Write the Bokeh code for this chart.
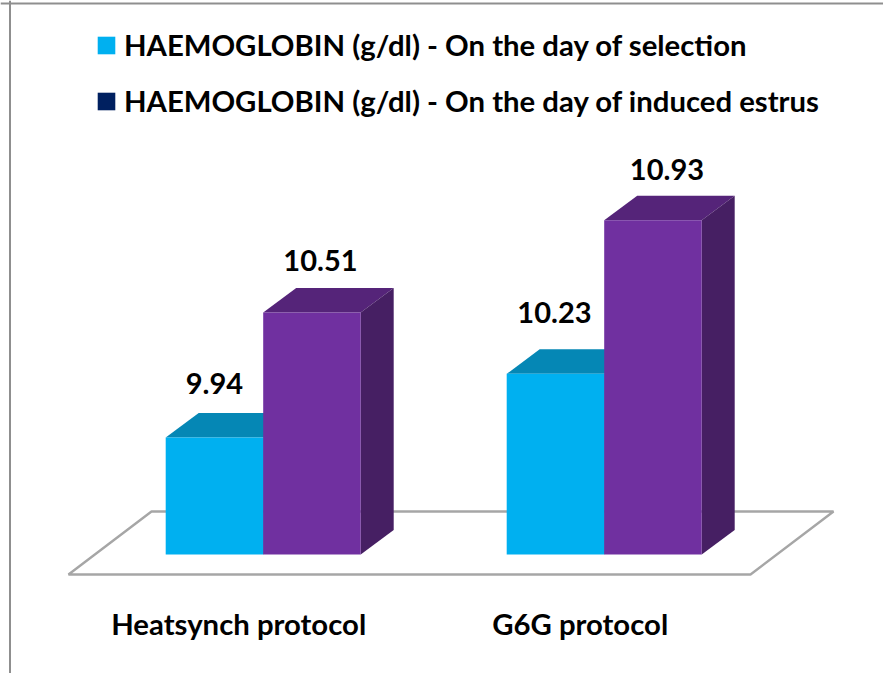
from bokeh.plotting import figure
from bokeh.embed import file_html
from bokeh.resources import INLINE
from bokeh.core.properties import value
from bokeh.models import Legend, LegendItem, Span

categories = ["Heatsynch protocol", "G6G protocol"]
series_names = ["HAEMOGLOBIN (g/dl) - On the day of selection",
                "HAEMOGLOBIN (g/dl) - On the day of induced estrus"]
selection = [9.94, 10.23]
estrus = [10.51, 10.93]

FONT = "Lato"
W, H = 883, 673
PX_X, PX_Y = 341.0, 219.5      # pixels per category, pixels per g/dl
X0 = -262.7 / PX_X
Y_TOP = 9.94 + 437 / PX_Y
BASE = 9.407
BAR = 97.5 / PX_X
DX, DY = 33 / PX_X, 24.5 / PX_Y

def dx(px):
    return X0 + px / PX_X
def dy(px):
    return Y_TOP - px / PX_Y

p = figure(width=W, height=H, output_backend="svg", toolbar_location=None,
           x_range=(X0, X0 + W / PX_X), y_range=(Y_TOP - H / PX_Y, Y_TOP),
           min_border=0, outline_line_color=None)
p.axis.visible = False
p.grid.visible = False
p.background_fill_color = "white"

# frame of the picture
FRAME = "#8f8f8f"
p.add_layout(Span(location=dx(9.5), dimension="height", line_color=FRAME, line_width=2))
p.add_layout(Span(location=dy(3), dimension="width", line_color=FRAME, line_width=2))

# floor
p.patch([dx(68), dx(750), dx(833), dx(151)], [dy(574), dy(574), dy(511), dy(511)],
        fill_color="white", line_color="#a6a6a6", line_width=2.4)

def bars(values, offset, front, top, side):
    xl = [i + offset for i in range(len(values))]
    xr = [x + BAR for x in xl]
    p.patches([[a, b, b + DX, a + DX] for a, b in zip(xl, xr)],
              [[v, v, v + DY, v + DY] for v in values],
              fill_color=top, line_color=None)
    p.patches([[b, b + DX, b + DX, b] for b in xr],
              [[BASE, BASE + DY, v + DY, v] for v in values],
              fill_color=side, line_color=None)
    return p.quad(left=xl, right=xr, bottom=BASE, top=values, fill_color=front, line_color=None)

bars(selection, -BAR, "#00B0F0", "#0587B5", "#0587B5")
bars(estrus, 0, "#7030A0", "#552479", "#461F63")

# data labels
lab_x = [-BAR / 2, 1 - BAR / 2, BAR / 2, 1 + BAR / 2]
lab_y = selection + estrus
lab_t = [f"{v:.2f}" for v in lab_y]
lab_dx = [0, -1, 8.5, 14]
lab_dy = [-54, -61, -52, -51]
p.text(x=lab_x, y=lab_y, text=lab_t, x_offset=lab_dx, y_offset=lab_dy,
       text_font=value(FONT), text_font_size="29px", text_font_style="bold",
       text_color="black", text_align="center", text_baseline="middle")

# category labels
p.text(x=[0, 1], y=[dy(622.5)] * 2, text=categories, x_offset=[-24.5, -24],
       text_font=value(FONT), text_font_size="29.3px", text_font_style="bold",
       text_color="black", text_align="center", text_baseline="middle")

# legend
k1 = p.quad(left=[float("nan")], right=[float("nan")], bottom=[float("nan")], top=[float("nan")],
            fill_color="#00B0F0", line_color=None)
k2 = p.quad(left=[float("nan")], right=[float("nan")], bottom=[float("nan")], top=[float("nan")],
            fill_color="#002060", line_color=None)
leg = Legend(items=[LegendItem(label=series_names[0], renderers=[k1]),
                    LegendItem(label=series_names[1], renderers=[k2])],
             location=(95, H - 118), orientation="vertical",
             glyph_width=22, glyph_height=22, label_standoff=7, spacing=21,
             label_text_font=FONT, label_text_font_size="29.3px", label_text_font_style="bold",
             label_text_color="black", border_line_color=None, background_fill_alpha=0,
             padding=8, margin=0)
p.add_layout(leg)

open("out.html", "w").write(file_html(p, INLINE))
